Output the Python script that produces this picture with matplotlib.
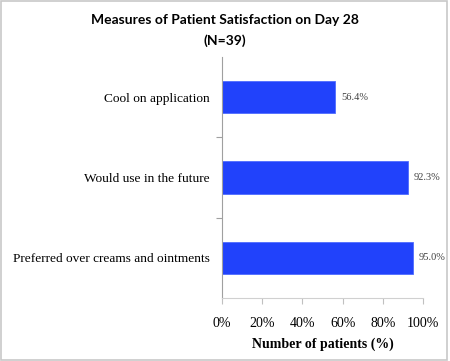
import matplotlib
matplotlib.use("Agg")
import matplotlib.pyplot as plt
from matplotlib.patches import Rectangle

categories = ["Preferred over creams and ointments", "Would use in the future", "Cool on application"]
values = [95.0, 92.3, 56.4]
value_labels = ["95.0%", "92.3%", "56.4%"]
xticks = [0, 20, 40, 60, 80, 100]
xtick_labels = ["0%", "20%", "40%", "60%", "80%", "100%"]

fig = plt.figure(figsize=(4.5, 3.61), dpi=100)
fig.patch.set_facecolor("white")
fig.patches.append(Rectangle((0.003, 0.004), 0.991, 0.992, transform=fig.transFigure,
                             fill=False, edgecolor="#c8c8c8", linewidth=1.2))

ax = fig.add_axes([0.4933, 0.1745, 0.4467, 0.6675])
y = list(range(len(categories)))
ax.barh(y, values, height=0.4, color="#2142fb", edgecolor="#4f6cff", linewidth=0.6)
for yi, v, lab in zip(y, values, value_labels):
    ax.text(v + 2.8, yi, lab, va="center", ha="left", fontsize=7.5,
            family="Liberation Serif", color="#404040")

ax.set_xlim(0, 100)
ax.set_ylim(-0.5, 2.5)
ax.set_yticks([0.5, 1.5])
ax.set_yticklabels([])
ax.tick_params(axis="y", length=4, color="#a0a0a0", width=0.8)
ax.set_yticks(y, minor=True)
ax.set_yticklabels(categories, minor=True, fontsize=9.6, family="Liberation Serif")
ax.tick_params(axis="y", which="minor", length=0, pad=9)

ax.set_xticks(xticks)
ax.set_xticklabels(xtick_labels, fontsize=10, family="Liberation Serif")
ax.tick_params(axis="x", length=4, color="#c0c0c0", width=0.8, pad=10)
ax.set_xlabel("Number of patients (%)", fontsize=10, family="Liberation Serif",
              fontweight="bold", labelpad=5)

for s in ["top", "right"]:
    ax.spines[s].set_visible(False)
ax.spines["left"].set_color("#a0a0a0")
ax.spines["left"].set_linewidth(0.8)
ax.spines["bottom"].set_color("#d0d0d0")
ax.spines["bottom"].set_linewidth(0.8)

fig.text(0.5, 0.945, "Measures of Patient Satisfaction on Day 28", ha="center", va="center",
         fontsize=10, fontweight="bold", family="Lato")
fig.text(0.5, 0.887, "(N=39)", ha="center", va="center",
         fontsize=10, fontweight="bold", family="Lato")

fig.savefig("out.png", dpi=100)
